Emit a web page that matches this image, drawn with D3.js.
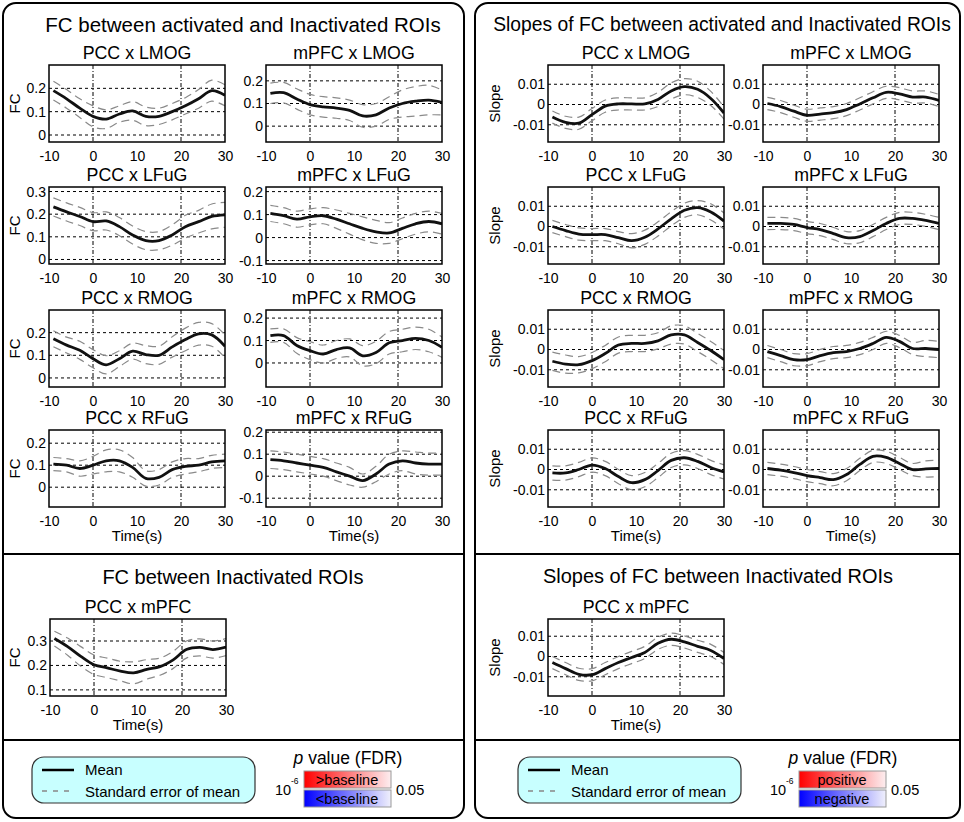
<!DOCTYPE html>
<html>
<head>
<meta charset="utf-8">
<title>FC time courses</title>
<script src="https://d3js.org/d3.v7.min.js"></script>
<style>
body { margin:0; background:#fff; }
text { font-family: "Liberation Sans", Arial, sans-serif; fill:#000; }
</style>
</head>
<body>
<script>
// time points (s)
var times = [-9,-6,-3,0,3,6,9,12,15,18,21,24,27,30];
var xTicks = [-10,0,10,20,30];
var xGrid = [0,20];

// FC between activated and inactivated ROIs (mean, standard error)
var fcPccLmogMean  = [0.19,0.155,0.115,0.08,0.068,0.09,0.103,0.08,0.08,0.10,0.125,0.155,0.19,0.17];
var fcPccLmogSe    = [0.04,0.04,0.04,0.045,0.04,0.035,0.04,0.04,0.035,0.035,0.035,0.04,0.045,0.045];
var fcMpfcLmogMean = [0.145,0.148,0.12,0.095,0.085,0.08,0.07,0.045,0.05,0.08,0.10,0.11,0.115,0.105];
var fcMpfcLmogSe   = [0.045,0.045,0.045,0.045,0.045,0.045,0.045,0.05,0.05,0.05,0.06,0.065,0.065,0.055];
var fcPccLfugMean  = [0.232,0.21,0.19,0.167,0.17,0.145,0.108,0.083,0.083,0.108,0.145,0.167,0.19,0.197];
var fcPccLfugSe    = [0.04,0.04,0.04,0.04,0.04,0.04,0.04,0.04,0.04,0.045,0.05,0.05,0.055,0.055];
var fcMpfcLfugMean = [0.105,0.095,0.08,0.09,0.095,0.08,0.06,0.04,0.025,0.02,0.04,0.06,0.07,0.06];
var fcMpfcLfugSe   = [0.035,0.035,0.035,0.035,0.035,0.04,0.045,0.05,0.05,0.045,0.045,0.045,0.045,0.045];
var fcPccRmogMean  = [0.173,0.145,0.122,0.085,0.058,0.085,0.118,0.103,0.10,0.137,0.17,0.195,0.19,0.14];
var fcPccRmogSe    = [0.035,0.035,0.04,0.04,0.04,0.035,0.035,0.04,0.04,0.045,0.05,0.05,0.05,0.05];
var fcMpfcRmogMean = [0.122,0.122,0.078,0.055,0.04,0.06,0.067,0.032,0.047,0.09,0.10,0.11,0.10,0.07];
var fcMpfcRmogSe   = [0.03,0.03,0.035,0.04,0.04,0.04,0.04,0.045,0.05,0.05,0.05,0.05,0.05,0.045];
var fcPccRfugMean  = [0.105,0.10,0.085,0.10,0.12,0.12,0.09,0.04,0.045,0.08,0.095,0.10,0.115,0.12];
var fcPccRfugSe    = [0.03,0.03,0.035,0.04,0.05,0.05,0.045,0.035,0.035,0.035,0.035,0.03,0.03,0.03];
var fcMpfcRfugMean = [0.075,0.07,0.06,0.05,0.04,0.02,0.0,-0.02,0.01,0.055,0.07,0.06,0.055,0.055];
var fcMpfcRfugSe   = [0.04,0.04,0.04,0.04,0.04,0.04,0.04,0.03,0.035,0.045,0.045,0.05,0.05,0.05];

// FC between inactivated ROIs
var fcPccMpfcMean  = [0.31,0.277,0.237,0.203,0.19,0.177,0.17,0.184,0.195,0.223,0.265,0.274,0.265,0.275];
var fcPccMpfcSe    = [0.03,0.035,0.04,0.04,0.04,0.04,0.045,0.04,0.035,0.035,0.035,0.035,0.035,0.035];

// slopes of FC between activated and inactivated ROIs
var slPccLmogMean  = [-0.0062,-0.0088,-0.0092,-0.005,-0.0008,0.0003,0.0003,0.0003,0.0025,0.0067,0.0088,0.0075,0.003,-0.0042];
var slPccLmogSe    = [0.003,0.003,0.003,0.003,0.003,0.003,0.003,0.003,0.0035,0.004,0.004,0.004,0.0035,0.003];
var slMpfcLmogMean = [0.0005,-0.001,-0.0033,-0.0053,-0.0047,-0.004,-0.0025,0.0003,0.0033,0.006,0.0053,0.0037,0.0037,0.002];
var slMpfcLmogSe   = [0.003,0.003,0.003,0.003,0.003,0.003,0.003,0.003,0.003,0.003,0.003,0.003,0.003,0.003];
var slPccLfugMean  = [0.0,-0.002,-0.0037,-0.004,-0.004,-0.0055,-0.007,-0.0053,-0.0012,0.0038,0.008,0.0093,0.0072,0.0027];
var slPccLfugSe    = [0.003,0.003,0.003,0.003,0.003,0.003,0.0035,0.0035,0.0035,0.0035,0.0035,0.0035,0.004,0.004];
var slMpfcLfugMean = [0.0015,0.0015,0.001,-0.0005,-0.0015,-0.0035,-0.0055,-0.005,-0.002,0.0015,0.004,0.004,0.003,0.0015];
var slMpfcLfugSe   = [0.003,0.003,0.003,0.003,0.003,0.003,0.003,0.003,0.003,0.003,0.003,0.003,0.003,0.003];
var slPccRmogMean  = [-0.0058,-0.0072,-0.0075,-0.0055,-0.002,0.0022,0.003,0.003,0.0043,0.0072,0.0072,0.0035,-0.0005,-0.005];
var slPccRmogSe    = [0.0045,0.0045,0.004,0.004,0.004,0.004,0.004,0.004,0.004,0.0045,0.0045,0.0045,0.0045,0.0045];
var slMpfcRmogMean = [-0.001,-0.003,-0.005,-0.005,-0.003,-0.0015,-0.001,0.0005,0.003,0.006,0.004,0.0005,0.0005,0.0];
var slMpfcRmogSe   = [0.003,0.003,0.003,0.003,0.003,0.003,0.003,0.003,0.003,0.003,0.003,0.003,0.004,0.004];
var slPccRfugMean  = [-0.0017,-0.0017,0.0,0.0022,0.0005,-0.0035,-0.0065,-0.005,-0.0005,0.0045,0.0058,0.004,0.001,-0.0012];
var slPccRfugSe    = [0.0035,0.0035,0.0035,0.0035,0.0035,0.0035,0.0035,0.0035,0.0035,0.0035,0.0035,0.0035,0.0035,0.0035];
var slMpfcRfugMean = [0.0005,-0.0003,-0.0015,-0.003,-0.004,-0.005,-0.0025,0.0025,0.0065,0.006,0.003,0.0,0.0003,0.0005];
var slMpfcRfugSe   = [0.003,0.003,0.003,0.003,0.003,0.003,0.003,0.003,0.003,0.003,0.003,0.003,0.004,0.004];

// slopes of FC between inactivated ROIs
var slPccMpfcMean  = [-0.003,-0.006,-0.0088,-0.009,-0.006,-0.003,-0.0005,0.002,0.0065,0.0085,0.0072,0.005,0.003,-0.001];
var slPccMpfcSe    = [0.003,0.003,0.003,0.003,0.003,0.003,0.003,0.003,0.003,0.003,0.003,0.003,0.003,0.003];

var slopeTicks = [-0.01,0,0.01];

var W = 964, H = 822;
var PW = 176, PH = 77;

var svg = d3.select("body")
       .append("svg")
       .attr("width", W)
       .attr("height", H);

var defs = svg.append("defs");

// panel frames
function panel(x0, x1) {
  svg.append("rect")
     .attr("x", x0).attr("y", 3)
     .attr("width", x1 - x0).attr("height", 815)
     .attr("rx", 13).attr("ry", 13)
     .attr("fill", "none").attr("stroke", "#000").attr("stroke-width", 2);
  [554, 740].forEach(function(yy) {
    svg.append("line")
       .attr("x1", x0).attr("x2", x1).attr("y1", yy).attr("y2", yy)
       .attr("stroke", "#000").attr("stroke-width", 2);
  });
}
panel(3, 464);
panel(475, 960);

function label(x, y, txt, size, anchor) {
  return svg.append("text")
     .attr("x", x).attr("y", y)
     .attr("font-size", size)
     .attr("text-anchor", anchor || "middle")
     .text(txt);
}

label(243, 32, "FC between activated and Inactivated ROIs", 20.5);
label(722, 31, "Slopes of FC between activated and Inactivated ROIs", 19.3);
label(233, 584, "FC between Inactivated ROIs", 20);
label(718, 583, "Slopes of FC between Inactivated ROIs", 20);

var clipN = 0;
function drawPlot(p) {
  var g = svg.append("g").attr("transform", "translate(" + p.x + "," + p.y + ")");
  var x = d3.scaleLinear().domain([-10, 30]).range([0, PW]);
  var y = d3.scaleLinear().domain(p.dom).range([PH, 0]);

  // grid
  g.selectAll(".hg").data(p.ticks).enter().append("line")
    .attr("x1", 0).attr("x2", PW)
    .attr("y1", function(d) { return y(d); })
    .attr("y2", function(d) { return y(d); })
    .attr("stroke", "#000").attr("stroke-width", 1)
    .attr("stroke-dasharray", "3,3");
  g.selectAll(".vg").data(xGrid).enter().append("line")
    .attr("y1", 0).attr("y2", PH)
    .attr("x1", function(d) { return x(d); })
    .attr("x2", function(d) { return x(d); })
    .attr("stroke", "#000").attr("stroke-width", 1)
    .attr("stroke-dasharray", "4,2,1,2");

  clipN++;
  defs.append("clipPath").attr("id", "c" + clipN)
      .append("rect").attr("width", PW).attr("height", PH);
  var body = g.append("g").attr("clip-path", "url(#c" + clipN + ")");

  var line = d3.line()
     .x(function(d, i) { return x(times[i]); })
     .y(function(d) { return y(d); })
     .curve(d3.curveCatmullRom);

  var up = p.mean.map(function(m, i) { return m + p.se[i]; });
  var lo = p.mean.map(function(m, i) { return m - p.se[i]; });
  [up, lo].forEach(function(arr) {
    body.append("path").datum(arr)
      .attr("d", line)
      .attr("fill", "none").attr("stroke", "#8a8a8a")
      .attr("stroke-width", 1.2).attr("stroke-dasharray", "8,5");
  });
  body.append("path").datum(p.mean)
      .attr("d", line)
      .attr("fill", "none").attr("stroke", "#111")
      .attr("stroke-width", 2.8);

  g.append("rect").attr("width", PW).attr("height", PH)
   .attr("fill", "none").attr("stroke", "#000").attr("stroke-width", 1.5);

  var ax = g.append("g").attr("transform", "translate(0," + PH + ")")
    .call(d3.axisBottom(x).tickValues(xTicks).tickSize(0).tickPadding(6)
          .tickFormat(function(d) { return String(d); }));
  ax.select(".domain").remove();
  ax.selectAll("text").attr("font-size", 14).attr("dy", "0.9em");

  var ay = g.append("g")
    .call(d3.axisLeft(y).tickValues(p.ticks).tickSize(0).tickPadding(3)
          .tickFormat(function(d) { return String(d); }));
  ay.select(".domain").remove();
  ay.selectAll("text").attr("font-size", 14);

  g.append("text").attr("x", PW / 2).attr("y", -6)
   .attr("text-anchor", "middle").attr("font-size", 17.8).text(p.title);

  if (p.ylab) {
    g.append("text")
     .attr("transform", "translate(" + p.ylabX + "," + (PH / 2) + ") rotate(-90)")
     .attr("text-anchor", "middle").attr("font-size", 15).text(p.ylab);
  }
  if (p.xlab) {
    g.append("text").attr("x", PW / 2).attr("y", PH + 34)
     .attr("text-anchor", "middle").attr("font-size", 15).text("Time(s)");
  }
}

var rowsY = [65, 187, 310, 430];
var fcPlots = [
  { title: "PCC x LMOG",  mean: fcPccLmogMean,  se: fcPccLmogSe,  dom: [-0.03, 0.3],   ticks: [0, 0.1, 0.2] },
  { title: "mPFC x LMOG", mean: fcMpfcLmogMean, se: fcMpfcLmogSe, dom: [-0.07, 0.27],  ticks: [0, 0.1, 0.2] },
  { title: "PCC x LFuG",  mean: fcPccLfugMean,  se: fcPccLfugSe,  dom: [-0.02, 0.32],  ticks: [0, 0.1, 0.2, 0.3] },
  { title: "mPFC x LFuG", mean: fcMpfcLfugMean, se: fcMpfcLfugSe, dom: [-0.115, 0.22], ticks: [-0.1, 0, 0.1, 0.2] },
  { title: "PCC x RMOG",  mean: fcPccRmogMean,  se: fcPccRmogSe,  dom: [-0.04, 0.3],   ticks: [0, 0.1, 0.2] },
  { title: "mPFC x RMOG", mean: fcMpfcRmogMean, se: fcMpfcRmogSe, dom: [-0.107, 0.236],ticks: [0, 0.1, 0.2] },
  { title: "PCC x RFuG",  mean: fcPccRfugMean,  se: fcPccRfugSe,  dom: [-0.09, 0.26],  ticks: [0, 0.1, 0.2] },
  { title: "mPFC x RFuG", mean: fcMpfcRfugMean, se: fcMpfcRfugSe, dom: [-0.14, 0.21],  ticks: [-0.1, 0, 0.1, 0.2] }
];
var slPlots = [
  { title: "PCC x LMOG",  mean: slPccLmogMean,  se: slPccLmogSe },
  { title: "mPFC x LMOG", mean: slMpfcLmogMean, se: slMpfcLmogSe },
  { title: "PCC x LFuG",  mean: slPccLfugMean,  se: slPccLfugSe },
  { title: "mPFC x LFuG", mean: slMpfcLfugMean, se: slMpfcLfugSe },
  { title: "PCC x RMOG",  mean: slPccRmogMean,  se: slPccRmogSe },
  { title: "mPFC x RMOG", mean: slMpfcRmogMean, se: slMpfcRmogSe },
  { title: "PCC x RFuG",  mean: slPccRfugMean,  se: slPccRfugSe },
  { title: "mPFC x RFuG", mean: slMpfcRfugMean, se: slMpfcRfugSe }
];

fcPlots.forEach(function(p, i) {
  var col = i % 2, row = Math.floor(i / 2);
  p.x = col ? 266 : 49;
  p.y = rowsY[row];
  if (col === 0) { p.ylab = "FC"; p.ylabX = -29; }
  p.xlab = row === 3;
  drawPlot(p);
});
slPlots.forEach(function(p, i) {
  var col = i % 2, row = Math.floor(i / 2);
  p.x = col ? 763 : 548;
  p.y = rowsY[row];
  p.dom = [-0.0185, 0.0195];
  p.ticks = slopeTicks;
  if (col === 0) { p.ylab = "Slope"; p.ylabX = -48; }
  p.xlab = row === 3;
  drawPlot(p);
});
drawPlot({ title: "PCC x mPFC", mean: fcPccMpfcMean, se: fcPccMpfcSe, dom: [0.075, 0.39],
           ticks: [0.1, 0.2, 0.3], x: 50, y: 619, ylab: "FC", ylabX: -30, xlab: true });
drawPlot({ title: "PCC x mPFC", mean: slPccMpfcMean, se: slPccMpfcSe, dom: [-0.0195, 0.0185],
           ticks: slopeTicks, x: 548, y: 619, ylab: "Slope", ylabX: -48, xlab: true });

// gradients for p-value colour bars
function grad(id, c, end) {
  var lg = defs.append("linearGradient").attr("id", id);
  lg.append("stop").attr("offset", "0%").attr("stop-color", c);
  lg.append("stop").attr("offset", "100%").attr("stop-color", end);
}
grad("gRed", "#ff0000", "#fdeef0");
grad("gBlue", "#0000ff", "#f0f0fc");

function legend(bx, lineX, pCx, barX, upTxt, downTxt) {
  svg.append("rect").attr("x", bx).attr("y", 757).attr("width", 223).attr("height", 46)
     .attr("rx", 12).attr("ry", 12)
     .attr("fill", "#c8ffff").attr("stroke", "#333").attr("stroke-width", 1.2);
  svg.append("line").attr("x1", lineX).attr("x2", lineX + 32).attr("y1", 770).attr("y2", 770)
     .attr("stroke", "#000").attr("stroke-width", 2.5);
  svg.append("line").attr("x1", lineX).attr("x2", lineX + 32).attr("y1", 791).attr("y2", 791)
     .attr("stroke", "#888").attr("stroke-width", 1.5).attr("stroke-dasharray", "5,6");
  label(lineX + 43, 775, "Mean", 15, "start");
  label(lineX + 43, 797, "Standard error of mean", 15, "start");

  var pt = svg.append("text").attr("x", pCx).attr("y", 764)
     .attr("text-anchor", "middle").attr("font-size", 17.5);
  pt.append("tspan").attr("font-style", "italic").text("p");
  pt.append("tspan").text(" value (FDR)");

  svg.append("rect").attr("x", barX).attr("y", 771).attr("width", 87).attr("height", 17)
     .attr("fill", "url(#gRed)").attr("stroke", "#999");
  svg.append("rect").attr("x", barX).attr("y", 790).attr("width", 87).attr("height", 17)
     .attr("fill", "url(#gBlue)").attr("stroke", "#999");
  label(barX + 43, 785, upTxt, 14.5);
  label(barX + 43, 804, downTxt, 14.5);

  label(barX - 29, 795, "10", 14.5, "start");
  label(barX - 13, 784, "-6", 8.5, "start");
  label(barX + 92, 795, "0.05", 14.5, "start");
}
legend(32, 42, 348, 304, ">baseline", "<baseline");
legend(518, 528, 843, 799, "positive", "negative");
</script>
</body>
</html>
